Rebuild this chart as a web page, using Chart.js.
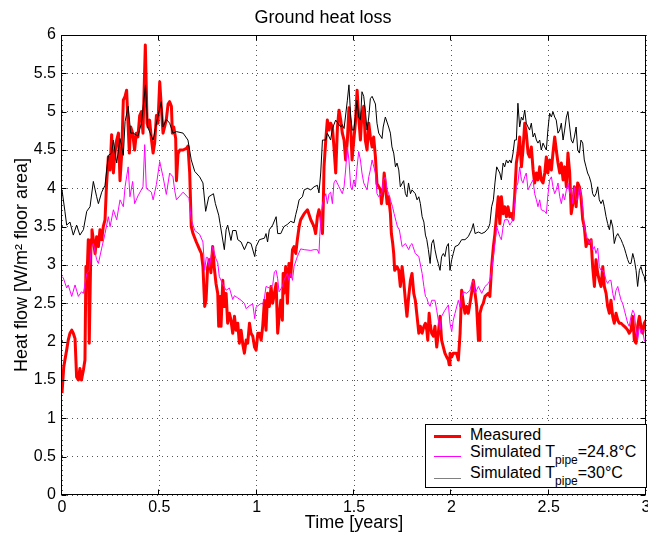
<!DOCTYPE html>
<html>
<head>
<meta charset="utf-8">
<title>Ground heat loss</title>
<script src="https://cdn.jsdelivr.net/npm/chart.js@4.4.0/dist/chart.umd.min.js"></script>
<style>
  body { margin: 0; background: #fff; }
  #wrap { position: relative; width: 648px; height: 539px; }
  #legend {
    position: absolute; left: 425px; top: 424px; width: 222px; height: 64px;
    box-sizing: border-box; border: 1px solid #000; background: #fff;
    font-family: 'Liberation Sans', Arial, Helvetica, sans-serif; font-size: 16px; color: #000;
  }
  #legend .txt { position: absolute; left: 44px; line-height: 18px; white-space: nowrap; }
  #legend .txt sub { font-size: 12px; vertical-align: -7px; line-height: 0; }
  #legend .ln { position: absolute; left: 8px; width: 27px; }
</style>
</head>
<body>
<div id="wrap">
  <canvas id="chart" width="648" height="539"></canvas>
  <div id="legend">
    <div class="ln" style="top:9.5px; height:3px; background:#ff0000;"></div>
    <div class="txt" style="top:1px;">Measured</div>
    <div class="ln" style="top:31px; height:1px; background:#ff00ff;"></div>
    <div class="txt" style="top:17.5px;">Simulated T<sub>pipe</sub>=24.8°C</div>
    <div class="ln" style="top:52.5px; height:1px; background:#808080;"></div>
    <div class="txt" style="top:38.5px;">Simulated T<sub>pipe</sub>=30°C</div>
  </div>
</div>
<script>
// [time in years, heat flow W/m2]
const measured = [
  [0,1.33],[0.009,1.67],[0.015,1.76],[0.024,1.89],[0.032,2.02],[0.041,2.11],[0.05,2.15],[0.058,2.11],
  [0.067,2.04],[0.075,1.54],[0.084,1.5],[0.092,1.65],[0.1,1.5],[0.11,1.63],[0.118,1.76],[0.123,2.98],
  [0.128,2.8],[0.135,3.33],[0.14,1.98],[0.149,3.33],[0.154,3.46],[0.161,3.33],[0.17,3.15],[0.178,3.37],
  [0.187,3.24],[0.195,3.46],[0.204,3.33],[0.212,3.5],[0.221,3.59],[0.229,4.06],[0.238,4.41],[0.247,4.24],
  [0.255,4.7],[0.264,4.2],[0.272,4.46],[0.281,4.63],[0.29,4.72],[0.298,4.1],[0.307,4.46],[0.315,5.15],
  [0.324,5.2],[0.332,5.28],[0.34,4.8],[0.346,4.46],[0.353,4.8],[0.363,4.72],[0.373,4.5],[0.382,4.72],
  [0.39,4.67],[0.399,4.95],[0.408,5.0],[0.416,4.72],[0.428,5.87],[0.437,4.85],[0.442,4.8],[0.45,4.89],
  [0.459,4.65],[0.468,4.46],[0.476,4.59],[0.485,4.95],[0.493,4.85],[0.502,5.39],[0.51,5.07],[0.519,4.72],
  [0.527,4.8],[0.536,4.9],[0.545,5.1],[0.553,5.13],[0.562,5.07],[0.567,4.72],[0.574,4.8],[0.584,4.65],
  [0.588,4.1],[0.596,4.45],[0.605,4.5],[0.622,4.5],[0.639,4.52],[0.647,4.55],[0.656,4.2],[0.664,3.5],
  [0.673,3.41],[0.69,3.3],[0.707,3.2],[0.716,3.15],[0.724,2.98],[0.733,2.46],[0.74,2.54],[0.748,2.97],
  [0.757,3.07],[0.765,2.9],[0.774,3.24],[0.782,2.97],[0.791,2.76],[0.8,2.63],[0.805,2.2],[0.812,2.59],
  [0.817,2.2],[0.826,2.8],[0.834,2.46],[0.843,2.63],[0.851,2.24],[0.86,2.37],[0.868,2.28],[0.877,2.11],
  [0.886,2.33],[0.894,2.15],[0.903,2.24],[0.911,1.98],[0.92,2.15],[0.929,1.96],[0.937,1.85],[0.946,2.02],
  [0.954,1.98],[0.963,2.24],[0.971,2.11],[0.98,2.07],[0.989,1.93],[0.997,1.89],[1.006,2.11],[1.014,2.11],
  [1.023,2.02],[1.031,2.2],[1.04,2.54],[1.048,2.15],[1.056,2.63],[1.065,2.46],[1.074,2.72],[1.082,2.5],
  [1.091,2.63],[1.1,2.76],[1.108,2.11],[1.117,2.37],[1.124,2.54],[1.132,2.28],[1.136,2.89],[1.14,2.63],
  [1.149,2.98],[1.158,2.5],[1.166,3.02],[1.175,2.85],[1.184,3.2],[1.192,3.24],[1.201,3.15],[1.209,3.33],
  [1.218,3.5],[1.226,3.59],[1.244,3.67],[1.261,3.72],[1.278,3.59],[1.295,3.5],[1.303,3.41],[1.312,3.63],
  [1.32,3.72],[1.329,3.63],[1.338,3.41],[1.342,3.76],[1.346,4.28],[1.355,4.63],[1.363,4.89],[1.372,4.76],
  [1.38,4.85],[1.389,4.8],[1.397,4.54],[1.406,4.2],[1.415,4.8],[1.423,5.02],[1.432,4.89],[1.44,4.72],
  [1.449,4.63],[1.457,4.37],[1.466,4.63],[1.474,5.05],[1.483,4.8],[1.49,4.37],[1.499,4.63],[1.507,4.85],
  [1.516,5.28],[1.524,4.93],[1.533,4.63],[1.541,4.98],[1.55,5.07],[1.558,4.63],[1.567,4.5],[1.576,4.85],
  [1.584,4.67],[1.593,4.54],[1.601,4.67],[1.61,4.41],[1.618,4.06],[1.627,4.02],[1.636,3.98],[1.641,3.8],
  [1.648,3.93],[1.655,4.2],[1.661,4.06],[1.67,3.8],[1.678,3.89],[1.687,3.67],[1.692,3.41],[1.699,3.28],
  [1.704,3.15],[1.709,2.93],[1.721,2.98],[1.73,2.93],[1.738,2.72],[1.747,2.98],[1.755,2.8],[1.764,2.54],
  [1.772,2.33],[1.781,2.59],[1.79,2.8],[1.798,2.89],[1.807,2.63],[1.815,2.54],[1.824,2.33],[1.833,2.11],
  [1.841,2.2],[1.85,2.11],[1.859,2.2],[1.867,2.24],[1.874,2.15],[1.879,2.02],[1.886,2.37],[1.891,2.24],
  [1.899,2.11],[1.908,2.07],[1.916,2.2],[1.925,1.93],[1.933,2.11],[1.942,2.33],[1.95,2.02],[1.959,1.93],
  [1.967,1.85],[1.976,1.8],[1.985,1.76],[1.989,1.7],[1.993,1.85],[2.002,1.8],[2.01,1.85],[2.027,1.85],
  [2.036,1.76],[2.045,2.11],[2.053,2.67],[2.062,2.5],[2.07,2.37],[2.079,2.46],[2.087,2.37],[2.096,2.5],
  [2.104,2.63],[2.113,2.8],[2.122,2.63],[2.13,2.46],[2.139,2.02],[2.143,2.02],[2.147,2.37],[2.156,2.46],
  [2.164,2.5],[2.173,2.59],[2.19,2.63],[2.198,2.59],[2.207,2.98],[2.216,3.24],[2.224,3.41],[2.233,3.67],
  [2.241,3.89],[2.249,3.54],[2.257,3.89],[2.266,3.67],[2.274,3.76],[2.283,3.63],[2.291,3.76],[2.3,3.63],
  [2.308,3.67],[2.317,3.59],[2.325,3.89],[2.334,4.33],[2.342,4.46],[2.351,4.67],[2.36,4.28],[2.368,4.5],
  [2.377,4.85],[2.385,4.72],[2.394,4.46],[2.402,4.41],[2.411,4.54],[2.42,4.24],[2.428,4.07],[2.437,4.2],
  [2.445,4.11],[2.454,4.28],[2.462,4.11],[2.471,4.07],[2.48,4.2],[2.488,4.41],[2.496,4.2],[2.505,4.37],
  [2.514,4.24],[2.522,4.46],[2.531,4.67],[2.539,4.5],[2.548,4.33],[2.557,4.2],[2.565,4.33],[2.574,4.11],
  [2.582,4.28],[2.591,4.02],[2.599,4.46],[2.608,4.2],[2.616,3.67],[2.624,3.8],[2.632,4.02],[2.641,3.76],
  [2.649,4.07],[2.658,4.02],[2.666,3.89],[2.675,3.59],[2.683,3.5],[2.692,3.24],[2.7,3.33],[2.709,3.28],
  [2.718,3.33],[2.726,2.98],[2.735,2.72],[2.743,3.07],[2.752,2.89],[2.76,2.8],[2.769,2.72],[2.778,2.98],
  [2.786,2.72],[2.795,2.63],[2.803,2.46],[2.812,2.37],[2.82,2.54],[2.829,2.33],[2.837,2.24],[2.846,2.37],
  [2.855,2.28],[2.863,2.24],[2.872,2.24],[2.88,2.22],[2.889,2.2],[2.897,2.18],[2.906,2.15],[2.914,2.11],
  [2.923,2.15],[2.932,2.33],[2.94,2.02],[2.949,1.98],[2.957,2.2],[2.966,2.33],[2.974,2.2],[2.983,2.11],
  [2.991,2.24],[3.0,2.28]
];

const simulated248 = [
  [0,2.85],[0.007,2.83],[0.024,2.7],[0.032,2.74],[0.05,2.59],[0.067,2.74],[0.084,2.59],[0.1,2.65],
  [0.11,2.63],[0.127,2.89],[0.14,2.93],[0.152,3.24],[0.161,3.28],[0.178,3.07],[0.187,3.02],[0.204,3.22],
  [0.221,3.41],[0.238,3.63],[0.247,3.5],[0.264,3.72],[0.281,3.59],[0.298,3.85],[0.315,3.76],[0.324,4.02],
  [0.34,4.28],[0.349,3.89],[0.363,4.09],[0.373,3.8],[0.39,3.9],[0.416,4.02],[0.425,4.57],[0.433,4.0],
  [0.459,3.95],[0.468,3.85],[0.485,4.05],[0.502,4.35],[0.519,4.15],[0.536,3.92],[0.553,4.2],[0.57,4.15],
  [0.579,3.97],[0.588,3.85],[0.622,3.95],[0.652,3.87],[0.664,3.59],[0.682,3.45],[0.707,3.4],[0.724,3.3],
  [0.733,2.93],[0.741,3.1],[0.748,3.1],[0.757,2.97],[0.774,3.24],[0.791,3.08],[0.8,3.03],[0.808,2.85],
  [0.826,2.75],[0.843,2.67],[0.86,2.7],[0.877,2.55],[0.886,2.6],[0.903,2.57],[0.92,2.54],[0.937,2.5],
  [0.946,2.43],[0.963,2.47],[0.98,2.49],[0.99,2.3],[0.997,2.45],[1.023,2.5],[1.031,2.49],[1.04,2.57],
  [1.048,2.72],[1.065,2.7],[1.082,2.73],[1.091,2.91],[1.1,2.93],[1.108,2.82],[1.115,2.65],[1.132,2.72],
  [1.14,2.8],[1.158,2.89],[1.166,2.8],[1.175,2.89],[1.184,2.8],[1.192,2.98],[1.209,3.11],[1.226,3.21],
  [1.244,3.2],[1.278,3.19],[1.295,3.2],[1.312,3.2],[1.32,3.15],[1.324,3.37],[1.329,3.6],[1.338,3.8],
  [1.355,3.93],[1.363,3.8],[1.372,3.93],[1.38,3.95],[1.389,3.8],[1.397,4.07],[1.406,4.11],[1.423,4.02],
  [1.44,3.93],[1.449,4.02],[1.457,4.24],[1.466,4.54],[1.474,4.37],[1.483,4.02],[1.49,3.98],[1.499,4.11],
  [1.507,4.02],[1.516,4.28],[1.524,4.48],[1.533,4.37],[1.541,4.2],[1.55,4.07],[1.567,3.98],[1.576,4.15],
  [1.584,4.24],[1.593,4.37],[1.61,4.2],[1.618,3.93],[1.627,3.89],[1.644,3.95],[1.65,4.1],[1.661,4.15],
  [1.67,3.98],[1.678,3.93],[1.687,3.85],[1.698,3.76],[1.706,3.67],[1.716,3.57],[1.723,3.5],[1.733,3.46],
  [1.747,3.24],[1.764,3.28],[1.781,3.2],[1.79,3.26],[1.798,3.28],[1.815,3.15],[1.833,3.11],[1.85,2.89],
  [1.859,2.72],[1.867,2.59],[1.874,2.57],[1.882,2.5],[1.891,2.46],[1.899,2.54],[1.916,2.54],[1.925,2.41],
  [1.933,2.28],[1.942,2.15],[1.95,2.33],[1.967,2.41],[1.985,2.48],[1.993,2.24],[2.002,2.13],[2.01,2.28],
  [2.019,2.37],[2.036,2.54],[2.045,2.45],[2.053,2.59],[2.062,2.65],[2.079,2.63],[2.096,2.67],[2.104,2.76],
  [2.113,2.8],[2.122,2.63],[2.139,2.72],[2.156,2.63],[2.173,2.72],[2.19,2.76],[2.198,2.8],[2.207,2.93],
  [2.216,3.11],[2.224,3.28],[2.233,3.5],[2.249,3.37],[2.257,3.33],[2.266,3.5],[2.274,3.59],[2.291,3.59],
  [2.3,3.52],[2.317,3.59],[2.325,3.8],[2.334,4.02],[2.342,4.07],[2.351,4.28],[2.36,4.11],[2.368,4.07],
  [2.377,4.15],[2.385,4.2],[2.394,3.98],[2.411,4.07],[2.42,4.11],[2.428,3.93],[2.437,3.85],[2.445,3.76],
  [2.454,3.85],[2.462,3.72],[2.48,3.7],[2.488,3.67],[2.496,3.91],[2.505,4.11],[2.514,4.15],[2.522,4.02],
  [2.531,3.93],[2.539,3.98],[2.548,4.07],[2.557,3.89],[2.565,3.8],[2.574,3.93],[2.582,3.85],[2.591,3.98],
  [2.599,4.07],[2.608,3.93],[2.616,4.0],[2.624,3.8],[2.632,4.02],[2.641,3.85],[2.649,3.85],[2.658,4.02],
  [2.666,3.93],[2.675,3.76],[2.683,3.5],[2.692,3.41],[2.7,3.33],[2.709,3.28],[2.718,3.33],[2.726,3.2],
  [2.735,3.24],[2.743,3.15],[2.752,3.22],[2.76,2.98],[2.769,2.93],[2.778,2.93],[2.786,2.89],[2.795,2.8],
  [2.803,2.76],[2.812,2.8],[2.82,2.8],[2.829,2.63],[2.837,2.54],[2.846,2.67],[2.855,2.72],[2.863,2.63],
  [2.872,2.54],[2.88,2.5],[2.889,2.41],[2.897,2.33],[2.906,2.24],[2.914,2.2],[2.923,2.33],[2.932,2.41],
  [2.94,2.37],[2.949,2.15],[2.957,2.02],[2.966,2.2],[2.974,2.11],[2.983,2.15],[2.991,2.02],[3.0,1.98]
];

const simulated30 = [
  [0,3.98],[0.015,3.7],[0.024,3.52],[0.041,3.56],[0.058,3.39],[0.075,3.52],[0.092,3.39],[0.11,3.46],
  [0.127,3.7],[0.144,3.76],[0.161,4.09],[0.178,3.89],[0.187,3.8],[0.204,3.95],[0.221,4.04],[0.238,4.43],
  [0.255,4.46],[0.264,4.63],[0.281,4.33],[0.298,4.65],[0.315,4.43],[0.324,4.87],[0.34,5.07],[0.353,4.72],
  [0.366,4.72],[0.39,4.68],[0.408,4.85],[0.429,5.35],[0.44,4.8],[0.468,4.63],[0.485,4.85],[0.51,5.13],
  [0.519,4.8],[0.536,4.9],[0.553,4.85],[0.57,4.72],[0.588,4.74],[0.622,4.72],[0.647,4.63],[0.664,4.37],
  [0.682,4.22],[0.707,4.15],[0.724,4.07],[0.738,3.7],[0.754,3.89],[0.778,3.93],[0.788,3.8],[0.805,3.65],
  [0.812,3.54],[0.834,3.2],[0.843,3.46],[0.851,3.52],[0.868,3.32],[0.877,3.45],[0.894,3.45],[0.903,3.33],
  [0.92,3.3],[0.937,3.2],[0.954,3.3],[0.971,3.28],[0.99,3.11],[0.997,3.24],[1.014,3.33],[1.04,3.35],
  [1.048,3.41],[1.056,3.3],[1.065,3.46],[1.082,3.52],[1.1,3.63],[1.108,3.41],[1.124,3.41],[1.14,3.5],
  [1.158,3.53],[1.175,3.57],[1.192,3.55],[1.201,3.66],[1.209,3.74],[1.218,3.85],[1.235,3.89],[1.244,3.98],
  [1.261,4.0],[1.278,3.98],[1.295,4.02],[1.312,4.04],[1.32,3.94],[1.329,4.2],[1.338,4.63],[1.355,4.63],
  [1.363,4.72],[1.38,4.63],[1.389,4.78],[1.406,4.89],[1.432,4.8],[1.44,4.83],[1.449,4.78],[1.466,5.15],
  [1.474,5.35],[1.483,4.93],[1.491,4.76],[1.499,4.76],[1.507,4.93],[1.516,5.15],[1.524,4.93],[1.533,4.89],
  [1.541,5.26],[1.55,5.2],[1.558,5.02],[1.567,4.76],[1.576,4.93],[1.584,5.17],[1.593,5.2],[1.61,5.1],
  [1.618,4.85],[1.627,4.72],[1.644,4.65],[1.65,4.8],[1.661,4.93],[1.678,4.8],[1.687,4.72],[1.695,4.54],
  [1.704,4.46],[1.713,4.28],[1.721,4.33],[1.73,4.24],[1.738,4.02],[1.755,4.1],[1.764,3.93],[1.772,3.89],
  [1.78,4.07],[1.79,3.93],[1.798,3.98],[1.815,3.93],[1.824,3.85],[1.833,3.89],[1.841,3.8],[1.85,3.63],
  [1.859,3.56],[1.867,3.39],[1.874,3.33],[1.882,3.2],[1.891,3.02],[1.899,3.28],[1.908,3.33],[1.916,3.2],
  [1.925,3.09],[1.933,3.02],[1.942,2.93],[1.95,3.11],[1.959,3.15],[1.967,3.11],[1.976,3.24],[1.985,3.28],
  [1.993,2.93],[2.002,3.07],[2.01,3.15],[2.019,3.24],[2.036,3.26],[2.053,3.33],[2.07,3.33],[2.087,3.37],
  [2.104,3.46],[2.113,3.54],[2.122,3.41],[2.139,3.43],[2.156,3.41],[2.173,3.43],[2.19,3.48],[2.198,3.54],
  [2.207,3.76],[2.216,3.85],[2.224,4.07],[2.233,4.28],[2.241,4.24],[2.249,4.2],[2.257,4.11],[2.266,4.33],
  [2.274,4.28],[2.283,4.37],[2.291,4.33],[2.3,4.37],[2.308,4.33],[2.317,4.46],[2.325,4.63],[2.334,4.63],
  [2.342,5.11],[2.351,4.8],[2.36,4.93],[2.368,4.89],[2.377,5.02],[2.385,4.85],[2.394,4.8],[2.402,4.76],
  [2.411,4.85],[2.42,4.67],[2.428,4.72],[2.437,4.63],[2.445,4.59],[2.454,4.63],[2.462,4.5],[2.471,4.59],
  [2.48,4.54],[2.488,4.5],[2.496,4.76],[2.505,4.98],[2.514,4.93],[2.522,5.0],[2.531,4.93],[2.539,4.89],
  [2.548,4.72],[2.557,4.76],[2.565,4.85],[2.574,4.63],[2.582,4.76],[2.591,4.93],[2.599,5.0],[2.608,4.8],
  [2.616,4.63],[2.624,4.59],[2.632,4.67],[2.641,4.8],[2.649,4.5],[2.658,4.46],[2.666,4.63],[2.675,4.59],
  [2.683,4.37],[2.692,4.28],[2.7,4.2],[2.709,4.15],[2.718,4.07],[2.726,3.93],[2.735,3.89],[2.743,3.93],
  [2.752,4.02],[2.76,3.85],[2.769,3.8],[2.778,3.85],[2.786,3.76],[2.795,3.63],[2.803,3.54],[2.812,3.46],
  [2.82,3.59],[2.829,3.5],[2.837,3.28],[2.846,3.37],[2.855,3.41],[2.863,3.37],[2.872,3.33],[2.88,3.28],
  [2.889,3.22],[2.897,3.15],[2.906,3.07],[2.914,3.02],[2.923,3.02],[2.932,3.15],[2.94,3.07],[2.949,2.93],
  [2.957,2.72],[2.966,2.93],[2.974,2.98],[2.983,2.89],[2.991,2.85],[3.0,2.72]
];

const FONT = "'Liberation Sans', Arial, Helvetica, sans-serif";
const toXY = (arr) => arr.map((p) => ({ x: p[0], y: p[1] }));
const tickText = (v) => String(Math.round(v * 10) / 10); // 6 not 6.0

// matlab style box with inward ticks
const axesBox = {
  id: 'axesBox',
  afterDraw(chart) {
    const { ctx, chartArea: a, scales: { x, y } } = chart;
    const L = Math.round(a.left) - 0.5, R = Math.round(a.right) - 0.5;
    const T = Math.round(a.top) + 0.5, B = Math.round(a.bottom) - 0.5;
    ctx.save();
    ctx.strokeStyle = '#000';
    ctx.lineWidth = 1;
    ctx.beginPath();
    x.ticks.forEach((t) => {
      const px = Math.round(x.getPixelForValue(t.value)) - 0.5;
      ctx.moveTo(px, B); ctx.lineTo(px, B - 5);
      ctx.moveTo(px, T); ctx.lineTo(px, T + 5);
    });
    y.ticks.forEach((t) => {
      const py = Math.round(y.getPixelForValue(t.value)) + 0.5;
      ctx.moveTo(L, py); ctx.lineTo(L + 5, py);
      ctx.moveTo(R, py); ctx.lineTo(R - 5, py);
    });
    ctx.stroke();
    ctx.strokeRect(L, T, R - L, B - T);
    ctx.restore();
  }
};

new Chart(document.getElementById('chart'), {
  type: 'scatter',
  data: {
    datasets: [
      { label: 'Measured', data: toXY(measured), borderColor: '#ff0000', borderWidth: 3, order: 3 },
      { label: 'Simulated Tpipe=24.8°C', data: toXY(simulated248), borderColor: '#ff00ff', borderWidth: 1, order: 2 },
      { label: 'Simulated Tpipe=30°C', data: toXY(simulated30), borderColor: '#000000', borderWidth: 1, order: 1 }
    ].map((d) => Object.assign(d, { showLine: true, pointRadius: 0, tension: 0, fill: false, borderJoinStyle: 'round' }))
  },
  options: {
    responsive: false,
    animation: false,
    devicePixelRatio: 1,
    layout: { padding: { left: 0, right: 2, top: 0, bottom: 0 } },
    plugins: {
      legend: { display: false },
      tooltip: { enabled: false },
      title: {
        display: true, text: 'Ground heat loss', color: '#000',
        font: { family: FONT, size: 18, weight: 'normal' },
        padding: { top: 7, bottom: 6.4 }
      }
    },
    scales: {
      x: {
        type: 'linear', min: 0, max: 3,
        ticks: { stepSize: 0.5, color: '#000', font: { family: FONT, size: 16 }, padding: 3, maxRotation: 0, callback: tickText },
        grid: { color: '#555', lineWidth: 1, drawTicks: false },
        border: { display: false, dash: [1, 4] },
        title: { display: true, text: 'Time [years]', color: '#000', font: { family: FONT, size: 18 }, padding: { top: 0, bottom: 5.5 } },
        afterFit(scale) { scale.height = 44; scale.paddingLeft = 0; scale.paddingRight = 0; }
      },
      y: {
        min: 0, max: 6,
        ticks: { stepSize: 0.5, color: '#000', font: { family: FONT, size: 16 }, padding: 6, callback: tickText },
        grid: { color: '#555', lineWidth: 1, drawTicks: false },
        border: { display: false, dash: [1, 4] },
        title: { display: true, text: 'Heat flow [W/m² floor area]', color: '#000', font: { family: FONT, size: 18 }, padding: { top: 11, bottom: 0 } },
        afterFit(scale) { scale.width = 62; scale.paddingTop = 0; scale.paddingBottom = 0; }
      }
    }
  },
  plugins: [axesBox]
});
</script>
</body>
</html>
